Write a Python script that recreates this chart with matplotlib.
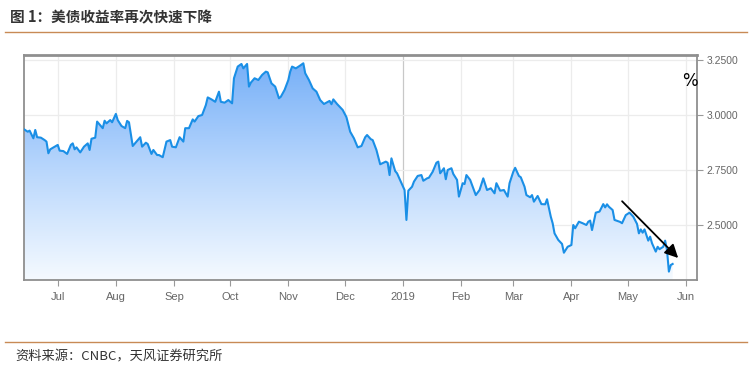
import numpy as np
import pandas as pd
import matplotlib
matplotlib.use("Agg")
import matplotlib.pyplot as plt
import matplotlib.dates as mdates
from matplotlib.colors import LinearSegmentedColormap

# 10Y treasury yield (%)
dates = [
    "2018-06-13", "2018-06-15", "2018-06-16", "2018-06-18", "2018-06-19", "2018-06-20",
    "2018-06-22", "2018-06-24", "2018-06-25", "2018-06-26", "2018-06-27", "2018-07-01",
    "2018-07-02", "2018-07-04", "2018-07-06", "2018-07-08", "2018-07-09", "2018-07-10",
    "2018-07-11", "2018-07-13", "2018-07-15", "2018-07-17", "2018-07-18", "2018-07-19",
    "2018-07-21", "2018-07-22", "2018-07-25", "2018-07-26", "2018-07-27", "2018-07-29",
    "2018-07-30", "2018-08-01", "2018-08-02", "2018-08-04", "2018-08-06", "2018-08-07",
    "2018-08-08", "2018-08-10", "2018-08-12", "2018-08-14", "2018-08-15", "2018-08-17",
    "2018-08-18", "2018-08-20", "2018-08-21", "2018-08-23", "2018-08-24", "2018-08-26",
    "2018-08-28", "2018-08-30", "2018-08-31", "2018-09-02", "2018-09-04", "2018-09-06",
    "2018-09-07", "2018-09-09", "2018-09-11", "2018-09-12", "2018-09-14", "2018-09-16",
    "2018-09-18", "2018-09-19", "2018-09-21", "2018-09-23", "2018-09-25", "2018-09-26",
    "2018-09-28", "2018-09-30", "2018-10-02", "2018-10-03", "2018-10-05", "2018-10-07",
    "2018-10-08", "2018-10-10", "2018-10-11", "2018-10-12", "2018-10-14", "2018-10-16",
    "2018-10-18", "2018-10-20", "2018-10-21", "2018-10-23", "2018-10-25", "2018-10-27",
    "2018-10-28", "2018-10-30", "2018-11-01", "2018-11-02", "2018-11-03", "2018-11-05",
    "2018-11-07", "2018-11-09", "2018-11-10", "2018-11-12", "2018-11-14", "2018-11-16",
    "2018-11-18", "2018-11-20", "2018-11-23", "2018-11-24", "2018-11-25", "2018-11-27",
    "2018-11-30", "2018-12-02", "2018-12-04", "2018-12-06", "2018-12-08", "2018-12-10",
    "2018-12-12", "2018-12-13", "2018-12-15", "2018-12-16", "2018-12-18", "2018-12-20",
    "2018-12-23", "2018-12-24", "2018-12-25", "2018-12-26", "2018-12-28", "2018-12-29",
    "2018-12-31", "2019-01-02", "2019-01-03", "2019-01-04", "2019-01-06", "2019-01-07",
    "2019-01-09", "2019-01-11", "2019-01-12", "2019-01-14", "2019-01-15", "2019-01-17",
    "2019-01-19", "2019-01-20", "2019-01-21", "2019-01-23", "2019-01-24", "2019-01-25",
    "2019-01-27", "2019-01-28", "2019-01-30", "2019-01-31", "2019-02-02", "2019-02-03",
    "2019-02-04", "2019-02-06", "2019-02-08", "2019-02-09", "2019-02-11", "2019-02-13",
    "2019-02-15", "2019-02-17", "2019-02-19", "2019-02-20", "2019-02-22", "2019-02-24",
    "2019-02-26", "2019-02-27", "2019-03-01", "2019-03-02", "2019-03-04", "2019-03-05",
    "2019-03-07", "2019-03-08", "2019-03-10", "2019-03-11", "2019-03-12", "2019-03-14",
    "2019-03-16", "2019-03-18", "2019-03-19", "2019-03-21", "2019-03-22", "2019-03-23",
    "2019-03-25", "2019-03-27", "2019-03-28", "2019-03-30", "2019-04-01", "2019-04-02",
    "2019-04-03", "2019-04-05", "2019-04-07", "2019-04-09", "2019-04-10", "2019-04-11",
    "2019-04-12", "2019-04-14", "2019-04-16", "2019-04-18", "2019-04-19", "2019-04-20",
    "2019-04-21", "2019-04-23", "2019-04-24", "2019-04-27", "2019-04-28", "2019-04-30",
    "2019-05-02", "2019-05-04", "2019-05-06", "2019-05-07", "2019-05-08", "2019-05-09",
    "2019-05-10", "2019-05-12", "2019-05-13", "2019-05-14", "2019-05-16", "2019-05-17",
    "2019-05-18", "2019-05-20", "2019-05-21", "2019-05-22", "2019-05-23", "2019-05-24",
    "2019-05-25",
]
yields = [
    2.935, 2.924, 2.929, 2.894, 2.932, 2.899,
    2.897, 2.886, 2.879, 2.826, 2.844, 2.864,
    2.838, 2.836, 2.823, 2.864, 2.871, 2.844,
    2.853, 2.830, 2.856, 2.871, 2.841, 2.892,
    2.897, 2.970, 2.940, 2.974, 2.962, 2.977,
    2.967, 3.005, 2.977, 2.950, 2.940, 2.973,
    2.967, 2.859, 2.879, 2.899, 2.856, 2.874,
    2.868, 2.823, 2.841, 2.818, 2.818, 2.808,
    2.879, 2.886, 2.856, 2.853, 2.899, 2.879,
    2.940, 2.940, 2.980, 2.970, 2.995, 3.000,
    3.045, 3.080, 3.071, 3.060, 3.106, 3.060,
    3.056, 3.068, 3.053, 3.167, 3.220, 3.232,
    3.212, 3.232, 3.129, 3.147, 3.167, 3.159,
    3.182, 3.197, 3.194, 3.144, 3.129, 3.076,
    3.083, 3.114, 3.159, 3.197, 3.220, 3.212,
    3.223, 3.235, 3.190, 3.159, 3.121, 3.106,
    3.068, 3.050, 3.064, 3.049, 3.071, 3.050,
    3.023, 2.990, 2.924, 2.894, 2.853, 2.859,
    2.899, 2.909, 2.890, 2.886, 2.841, 2.776,
    2.788, 2.783, 2.727, 2.803, 2.745, 2.735,
    2.697, 2.659, 2.523, 2.656, 2.674, 2.697,
    2.723, 2.727, 2.701, 2.712, 2.715, 2.742,
    2.783, 2.788, 2.735, 2.758, 2.708, 2.750,
    2.758, 2.732, 2.705, 2.629, 2.690, 2.686,
    2.727, 2.705, 2.659, 2.636, 2.659, 2.712,
    2.659, 2.667, 2.644, 2.690, 2.656, 2.659,
    2.629, 2.690, 2.742, 2.760, 2.723, 2.717,
    2.674, 2.636, 2.626, 2.636, 2.606, 2.632,
    2.595, 2.594, 2.617, 2.538, 2.508, 2.462,
    2.432, 2.414, 2.374, 2.401, 2.409, 2.500,
    2.485, 2.515, 2.508, 2.500, 2.515, 2.520,
    2.477, 2.556, 2.561, 2.595, 2.580, 2.594,
    2.583, 2.568, 2.523, 2.514, 2.508, 2.545,
    2.556, 2.538, 2.505, 2.462, 2.480, 2.465,
    2.480, 2.429, 2.447, 2.417, 2.379, 2.401,
    2.390, 2.401, 2.429, 2.386, 2.288, 2.318,
    2.323,
]
y_ticks = [2.5, 2.75, 3.0, 3.25]
month_ticks = ["2018-07-01", "2018-08-01", "2018-09-01", "2018-10-01", "2018-11-01",
               "2018-12-01", "2019-01-01", "2019-02-01", "2019-03-01", "2019-04-01",
               "2019-05-01", "2019-06-01"]
month_labels = ["Jul", "Aug", "Sep", "Oct", "Nov", "Dec", "2019", "Feb", "Mar", "Apr", "May", "Jun"]
arrow_start = ("2019-04-27", 2.617)
arrow_end = ("2019-05-29", 2.341)

cjk = ["Noto Sans CJK SC", "DejaVu Sans"]

x = mdates.date2num(pd.to_datetime(dates))
y = np.array(yields)
ticks_x = mdates.date2num(pd.to_datetime(month_ticks))
xmin = mdates.date2num(pd.Timestamp("2018-06-13"))
xmax = mdates.date2num(pd.Timestamp("2019-06-07"))
ymin, ymax = 2.25, 3.2727

fig = plt.figure(figsize=(7.52, 3.70), dpi=100)
ax = fig.add_axes([24 / 752, 1 - 280 / 370, (697 - 24) / 752, (280 - 55) / 370])

# grid
for t, lab in zip(ticks_x, month_labels):
    c = "#c8c8c8" if lab == "2019" else "#ececec"
    ax.axvline(t, color=c, lw=0.9, zorder=0)
for t in y_ticks:
    ax.axhline(t, color="#ececec", lw=0.9, zorder=0)

# gradient fill under the line
cmap = LinearSegmentedColormap.from_list("g", [(0.96, 0.98, 1.0), (0.72, 0.84, 0.99), (0.45, 0.68, 0.97)])
grad = np.linspace(0, 1, 256).reshape(-1, 1)
im = ax.imshow(grad, extent=[xmin, xmax, ymin, ymax], origin="lower", aspect="auto",
               cmap=cmap, zorder=1)
poly = ax.fill_between(x, y, ymin, color="none", lw=0)
clip = poly.get_paths()[0]
im.set_clip_path(clip, transform=ax.transData)

ax.plot(x, y, color="#1a8fe6", lw=1.5, zorder=3)

ax.annotate("", xy=(mdates.date2num(pd.Timestamp(arrow_end[0])), arrow_end[1]),
            xytext=(mdates.date2num(pd.Timestamp(arrow_start[0])), arrow_start[1]),
            arrowprops=dict(arrowstyle="-|>", color="black", lw=1.3, mutation_scale=20),
            zorder=5)

ax.set_xlim(xmin, xmax)
ax.set_ylim(ymin, ymax)
ax.set_xticks(ticks_x)
ax.set_xticklabels(month_labels)
ax.set_yticks(y_ticks)
ax.set_yticklabels(["%.4f" % v for v in y_ticks])
ax.yaxis.tick_right()
ax.tick_params(axis="both", direction="out", length=4, color="#999999", labelcolor="#666666",
               labelsize=8)
ax.tick_params(axis="x", pad=5)
ax.tick_params(axis="y", pad=3, labelsize=7.5)
for lab in ax.get_xticklabels() + ax.get_yticklabels():
    lab.set_family("Liberation Sans")
for s in ax.spines.values():
    s.set_color("#8f8f8f")
    s.set_linewidth(1.3)
ax.spines["top"].set_linewidth(2)

fig.text(690 / 752, 1 - 81 / 370, "%", fontsize=12, ha="center", va="center", color="black")

# title, rules and source
fig.text(10 / 752, 1 - 17 / 370, "图 1：美债收益率再次快速下降", fontsize=10.5, fontweight="bold",
         family=cjk, color="#333333", va="center")
fig.add_artist(plt.Line2D([5 / 752, 747 / 752], [1 - 32 / 370] * 2, color="#c88a55", lw=1))
fig.add_artist(plt.Line2D([5 / 752, 747 / 752], [1 - 342 / 370] * 2, color="#c88a55", lw=1))
fig.text(15 / 752, 1 - 357 / 370, "资料来源：CNBC，天风证券研究所", fontsize=9.5, family=cjk,
         color="#333333", va="center")

fig.savefig("out.png", dpi=100)
